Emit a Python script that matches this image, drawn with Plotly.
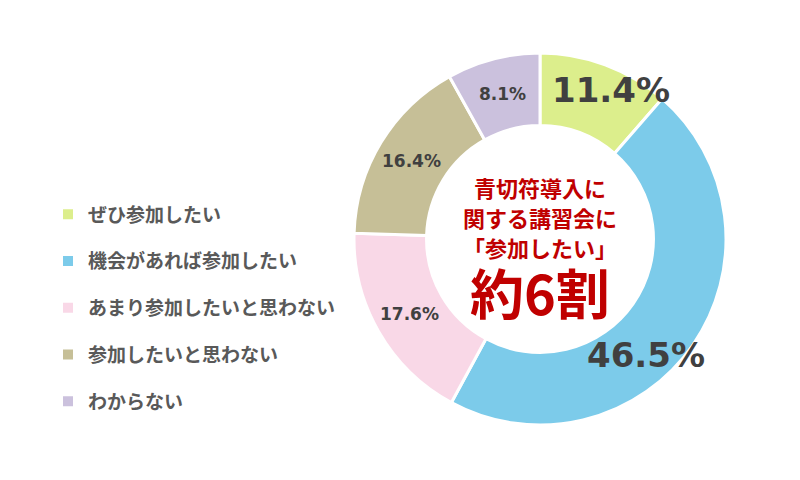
import math
import plotly.graph_objects as go

# data
labels = ["ぜひ参加したい", "機会があれば参加したい", "あまり参加したいと思わない",
          "参加したいと思わない", "わからない"]
values = [11.4, 46.5, 17.6, 16.4, 8.1]
colors = ["#dcee8c", "#7ccbea", "#f9d8e7", "#c6bf97", "#cbc1dd"]
center_lines = ["青切符導入に", "関する講習会に", "「参加したい」"]
center_big = "約6割"

# label style per slice: (font size, radius px, angle shift deg)
label_style = [(34, 165, 5), (34, 157, 13), (17, 150, 0), (17, 150, 0), (17, 150, 0)]

W, H = 800, 480
dom_x = [353 / W, 727 / W]
dom_y = [(H - 425) / H, (H - 53) / H]
cx = (dom_x[0] + dom_x[1]) / 2 * W
cy = H - (dom_y[0] + dom_y[1]) / 2 * H

fig = go.Figure()
fig.add_trace(go.Pie(
    labels=labels, values=values, sort=False, direction="clockwise",
    hole=0.61, marker=dict(colors=colors, line=dict(color="white", width=3)),
    textinfo="none", hoverinfo="label+percent", showlegend=False,
    domain=dict(x=dom_x, y=dom_y),
))

# legend entries
for lab, col in zip(labels, colors):
    fig.add_trace(go.Scatter(x=[None], y=[None], mode="markers", name=lab, legendgroup=lab,
                             marker=dict(symbol="square", size=10, color=col)))

# percentage labels
total = sum(values)
cum = 0
for v, (fs, r, shift) in zip(values, label_style):
    mid = (cum + v / 2) / total * 360 + shift
    cum += v
    a = math.radians(mid)
    px = cx + r * math.sin(a)
    py = cy - r * math.cos(a)
    fig.add_annotation(x=px / W, y=1 - py / H, xref="paper", yref="paper",
                       xanchor="center", yanchor="middle",
                       text=f"<b>{v:.1f}%</b>", showarrow=False,
                       font=dict(family="DejaVu Sans", size=fs, color="#404040"))

# center text
for i, line in enumerate(center_lines):
    fig.add_annotation(x=cx / W, y=1 - (cy - 52 + i * 30) / H, xref="paper", yref="paper",
                       xanchor="center", yanchor="middle",
                       text=f"<b>{line}</b>", showarrow=False,
                       font=dict(family="Noto Sans CJK JP", size=22, color="#c00000"))
fig.add_annotation(x=cx / W, y=1 - (cy + 52) / H, xref="paper", yref="paper",
                   xanchor="center", yanchor="middle",
                   text=f"<b>{center_big}</b>", showarrow=False,
                   font=dict(family="Noto Sans CJK JP", size=54, color="#c00000"))

fig.update_layout(
    width=W, height=H, margin=dict(l=0, r=0, t=0, b=0),
    paper_bgcolor="white", plot_bgcolor="white",
    xaxis=dict(visible=False), yaxis=dict(visible=False),
    legend=dict(x=0.06, y=1 - 308 / H, xanchor="left", yanchor="middle",
                tracegroupgap=19, traceorder="grouped",
                font=dict(family="Noto Sans CJK JP", size=19, color="#595959", weight="bold")),
    font=dict(family="Noto Sans CJK JP"),
)

fig.write_html("out.html", config={"displayModeBar": False},
               post_script="document.body.style.margin='0';")
